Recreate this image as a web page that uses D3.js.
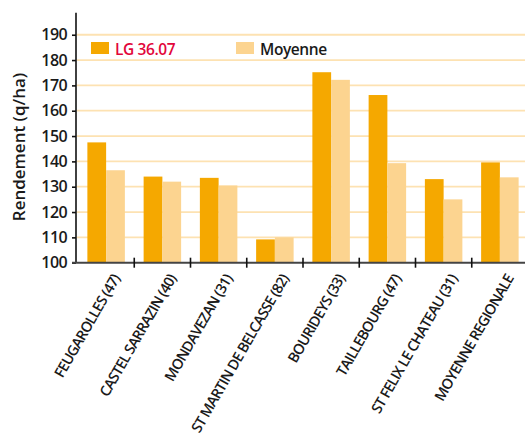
<!DOCTYPE html>
<html lang="fr">
<head>
<meta charset="UTF-8">
<title>Rendement</title>
<script src="https://cdn.jsdelivr.net/npm/d3@7/dist/d3.min.js"></script>
<style>
  body { margin: 0; background: #fff; }
  svg text { font-family: "Open Sans", "Noto Sans", sans-serif; }
</style>
</head>
<body>
<div id="chart"></div>
<script>
const categories = ["FEUGAROLLES (47)", "CASTEL SARRAZIN (40)", "MONDAVEZAN (31)",
    "ST MARTIN DE BELCASSE (82)", "BOURIDEYS (33)", "TAILLEBOURG (47)",
    "ST FELIX LE CHATEAU (31)", "MOYENNE REGIONALE"];
const seriesNames = ["LG 36.07", "Moyenne"];
const lgValues = [147.5, 134, 133.5, 109.2, 175.2, 166.2, 133, 139.6];
const moyValues = [136.5, 132, 130.5, 110, 172.2, 139.3, 125, 133.7];
const yTicks = [100, 110, 120, 130, 140, 150, 160, 170, 180, 190];

const W = 525, H = 434;
const colors = ["#f5a800", "#fcd490"];

const svg = d3.select("#chart").append("svg")
    .attr("width", W).attr("height", H);

const x = d3.scaleBand().domain(categories).range([78, 528]);
const xs = d3.scaleBand().domain(seriesNames)
    .range([x.bandwidth() / 6, x.bandwidth() * 5 / 6]);
const y = d3.scaleLinear().domain([100, 198.7]).range([262.7, 12.7]);

// grid
svg.append("g").selectAll("line")
    .data(yTicks.slice(1))
    .enter().append("line")
    .attr("x1", 77).attr("x2", W)
    .attr("y1", d => y(d)).attr("y2", d => y(d))
    .attr("stroke", "#fde2b2").attr("stroke-width", 1.8);

// bars
const data = categories.map((c, i) => ({ cat: c, vals: [lgValues[i], moyValues[i]] }));
const groups = svg.append("g").selectAll("g")
    .data(data)
    .enter().append("g")
    .attr("transform", d => `translate(${x(d.cat)},0)`);
groups.selectAll("rect")
    .data(d => d.vals.map((v, j) => ({ name: seriesNames[j], v, j })))
    .enter().append("rect")
    .attr("x", d => xs(d.name))
    .attr("width", xs.bandwidth())
    .attr("y", d => y(d.v))
    .attr("height", d => y(100) - y(d.v))
    .attr("fill", d => colors[d.j]);

// y axis
const yAxis = svg.append("g")
    .attr("transform", "translate(76,0)")
    .call(d3.axisLeft(y).tickValues(yTicks).tickSize(4).tickPadding(5));
yAxis.select(".domain").attr("d", `M0,${y(198.7)}V${y(100)}`).attr("stroke", "#111").attr("stroke-width", 1.6);
yAxis.selectAll(".tick line").attr("stroke", "#111").attr("stroke-width", 1.6);
yAxis.selectAll("text")
    .attr("font-size", 16).attr("font-weight", 600).attr("fill", "#1a1a1a")
    .attr("letter-spacing", -0.6);

// x axis
const xAxis = svg.append("g")
    .attr("transform", `translate(0,${y(100)})`);
xAxis.append("line")
    .attr("x1", 72).attr("x2", W)
    .attr("stroke", "#444").attr("stroke-width", 2);
xAxis.selectAll(".xt")
    .data(categories.slice(1))
    .enter().append("line")
    .attr("x1", d => x(d)).attr("x2", d => x(d))
    .attr("y1", -5).attr("y2", 5)
    .attr("stroke", "#111").attr("stroke-width", 1.6);
xAxis.selectAll(".xl")
    .data(categories)
    .enter().append("text")
    .attr("transform", d => `translate(${x(d) + x.bandwidth() / 2 + 10},13) rotate(-60)`)
    .attr("text-anchor", "end")
    .attr("dy", "0.35em")
    .attr("font-size", 14.5)
    .attr("font-weight", 600)
    .attr("letter-spacing", -0.8)
    .attr("fill", "#1a1a1a")
    .text(d => d);

// y label
svg.append("text")
    .attr("transform", "translate(19,147) rotate(-90)")
    .attr("text-anchor", "middle")
    .attr("dy", "0.35em")
    .attr("font-size", 17).attr("font-weight", 600).attr("fill", "#1a1a1a")
    .text("Rendement (q/ha)");

// legend
const legendX = [91, 236];
const leg = svg.append("g").selectAll("g")
    .data(seriesNames)
    .enter().append("g")
    .attr("transform", (d, i) => `translate(${legendX[i]},42)`);
leg.append("rect").attr("width", 18).attr("height", 12)
    .attr("fill", (d, i) => colors[i]);
leg.append("text")
    .attr("x", 24).attr("y", 12.5)
    .attr("font-size", 15.5).attr("font-weight", 600)
    .attr("letter-spacing", -0.4)
    .attr("fill", (d, i) => i === 0 ? "#e2063b" : "#1a1a1a")
    .text(d => d);
</script>
</body>
</html>
